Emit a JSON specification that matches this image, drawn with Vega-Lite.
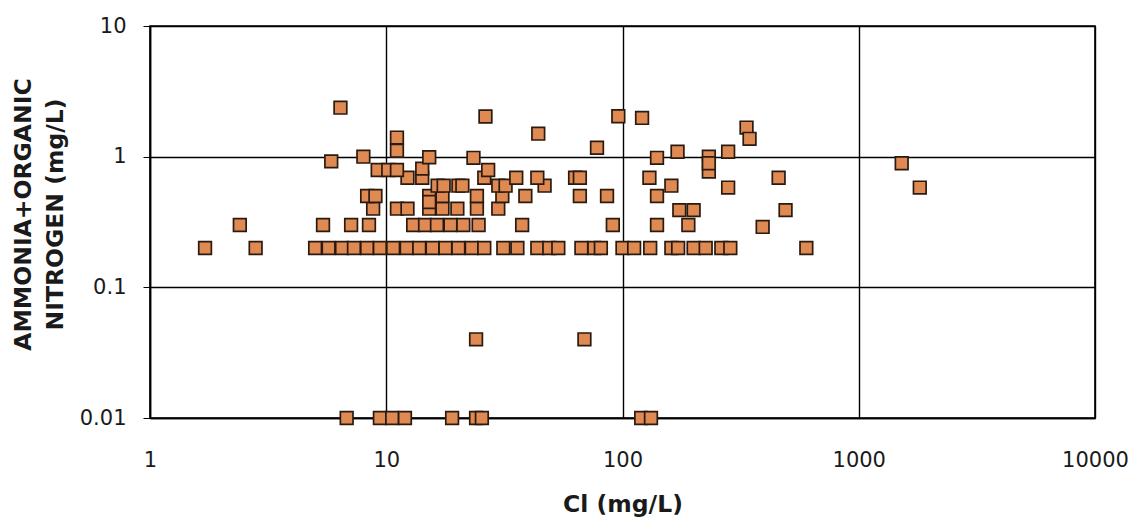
{
  "$schema": "https://vega.github.io/schema/vega-lite/v6.json",
  "autosize": {"type": "none"},
  "padding": {"left": 150, "top": 26, "right": 40, "bottom": 101},
  "width": 945,
  "height": 392,
  "background": "white",
  "config": {
    "view": {"stroke": "black", "strokeWidth": 1.6},
    "axis": {
      "labelFont": "DejaVu Sans",
      "titleFont": "DejaVu Sans",
      "labelFontSize": 21,
      "titleFontSize": 23.5,
      "labelColor": "#1a1a1a",
      "titleColor": "#1a1a1a",
      "grid": true,
      "gridColor": "black",
      "gridWidth": 1.4,
      "gridOpacity": 1,
      "domainColor": "black",
      "domainWidth": 1.6,
      "tickColor": "black"
    }
  },
  "data": {
    "values": [
      {"cl": 6.8, "n": 0.01}, {"cl": 9.4, "n": 0.01}, {"cl": 10.6, "n": 0.01}, {"cl": 12.0, "n": 0.01},
      {"cl": 19.0, "n": 0.01}, {"cl": 24.0, "n": 0.01}, {"cl": 25.4, "n": 0.01}, {"cl": 120, "n": 0.01}, {"cl": 132, "n": 0.01},
      {"cl": 24.0, "n": 0.04}, {"cl": 69, "n": 0.04},
      {"cl": 1.71, "n": 0.2}, {"cl": 2.8, "n": 0.2}, {"cl": 5.0, "n": 0.2}, {"cl": 5.7, "n": 0.2}, {"cl": 6.5, "n": 0.2},
      {"cl": 7.3, "n": 0.2}, {"cl": 8.3, "n": 0.2}, {"cl": 9.4, "n": 0.2}, {"cl": 10.7, "n": 0.2}, {"cl": 12.2, "n": 0.2},
      {"cl": 13.8, "n": 0.2}, {"cl": 15.7, "n": 0.2}, {"cl": 17.8, "n": 0.2}, {"cl": 20.2, "n": 0.2}, {"cl": 23, "n": 0.2},
      {"cl": 26, "n": 0.2}, {"cl": 31.3, "n": 0.2}, {"cl": 35.9, "n": 0.2}, {"cl": 43.6, "n": 0.2}, {"cl": 49, "n": 0.2},
      {"cl": 53.5, "n": 0.2}, {"cl": 67, "n": 0.2}, {"cl": 76, "n": 0.2}, {"cl": 81, "n": 0.2}, {"cl": 100, "n": 0.2},
      {"cl": 112, "n": 0.2}, {"cl": 131, "n": 0.2}, {"cl": 161, "n": 0.2}, {"cl": 172, "n": 0.2}, {"cl": 200, "n": 0.2},
      {"cl": 225, "n": 0.2}, {"cl": 262, "n": 0.2}, {"cl": 286, "n": 0.2}, {"cl": 600, "n": 0.2},
      {"cl": 2.4, "n": 0.3}, {"cl": 5.4, "n": 0.3}, {"cl": 7.1, "n": 0.3}, {"cl": 8.45, "n": 0.3}, {"cl": 13, "n": 0.3},
      {"cl": 14.6, "n": 0.3}, {"cl": 16.4, "n": 0.3}, {"cl": 18.7, "n": 0.3}, {"cl": 21.2, "n": 0.3}, {"cl": 24.6, "n": 0.3},
      {"cl": 37.6, "n": 0.3}, {"cl": 91, "n": 0.3}, {"cl": 140, "n": 0.3}, {"cl": 190, "n": 0.3}, {"cl": 392, "n": 0.29},
      {"cl": 8.8, "n": 0.4}, {"cl": 11.1, "n": 0.4}, {"cl": 12.3, "n": 0.4}, {"cl": 15.2, "n": 0.4}, {"cl": 17.3, "n": 0.4},
      {"cl": 20, "n": 0.4}, {"cl": 24.2, "n": 0.4}, {"cl": 29.8, "n": 0.4}, {"cl": 174, "n": 0.39}, {"cl": 200, "n": 0.39},
      {"cl": 490, "n": 0.39},
      {"cl": 8.3, "n": 0.5}, {"cl": 9.0, "n": 0.5}, {"cl": 15.2, "n": 0.5}, {"cl": 17.3, "n": 0.5}, {"cl": 15.2, "n": 0.45},
      {"cl": 24.2, "n": 0.5}, {"cl": 31, "n": 0.5}, {"cl": 38.8, "n": 0.5}, {"cl": 66, "n": 0.5}, {"cl": 86, "n": 0.5},
      {"cl": 140, "n": 0.5},
      {"cl": 16.5, "n": 0.6}, {"cl": 17.5, "n": 0.6}, {"cl": 20.2, "n": 0.6}, {"cl": 21, "n": 0.6}, {"cl": 29.8, "n": 0.6},
      {"cl": 32, "n": 0.6}, {"cl": 46.8, "n": 0.6}, {"cl": 161, "n": 0.6}, {"cl": 280, "n": 0.58}, {"cl": 1813, "n": 0.58},
      {"cl": 12.3, "n": 0.69}, {"cl": 14.2, "n": 0.69}, {"cl": 26, "n": 0.69}, {"cl": 35.5, "n": 0.69}, {"cl": 43.6, "n": 0.69},
      {"cl": 63, "n": 0.69}, {"cl": 66, "n": 0.69}, {"cl": 130, "n": 0.69}, {"cl": 458, "n": 0.69},
      {"cl": 9.2, "n": 0.79}, {"cl": 10.2, "n": 0.79}, {"cl": 11.1, "n": 0.79}, {"cl": 14.2, "n": 0.81}, {"cl": 27, "n": 0.79},
      {"cl": 232, "n": 0.77},
      {"cl": 5.85, "n": 0.92}, {"cl": 8.0, "n": 1.0}, {"cl": 15.2, "n": 0.99}, {"cl": 23.4, "n": 0.98}, {"cl": 140, "n": 0.98},
      {"cl": 232, "n": 1.0}, {"cl": 232, "n": 0.89}, {"cl": 1520, "n": 0.89},
      {"cl": 6.4, "n": 2.37}, {"cl": 11.1, "n": 1.4}, {"cl": 11.1, "n": 1.11}, {"cl": 26.3, "n": 2.03}, {"cl": 44, "n": 1.5},
      {"cl": 78, "n": 1.17}, {"cl": 96, "n": 2.04}, {"cl": 121, "n": 1.98}, {"cl": 171, "n": 1.09}, {"cl": 280, "n": 1.09},
      {"cl": 335, "n": 1.67}, {"cl": 345, "n": 1.37}
    ]
  },
  "mark": {
    "type": "square",
    "size": 160,
    "filled": true,
    "fill": "#df8a52",
    "fillOpacity": 1,
    "stroke": "#2a1a10",
    "strokeWidth": 1.7
  },
  "encoding": {
    "x": {
      "field": "cl",
      "type": "quantitative",
      "scale": {"type": "log", "domain": [1, 10000], "nice": false},
      "axis": {
        "values": [1, 10, 100, 1000, 10000],
        "format": "~g",
        "title": "Cl (mg/L)",
        "titleFontWeight": "bold",
        "ticks": false,
        "labelPadding": 31,
        "titlePadding": 22,
        "labelFlush": false
      }
    },
    "y": {
      "field": "n",
      "type": "quantitative",
      "scale": {"type": "log", "domain": [0.01, 10], "nice": false},
      "axis": {
        "values": [0.01, 0.1, 1, 10],
        "format": "~g",
        "title": ["AMMONIA+ORGANIC", "NITROGEN (mg/L)"],
        "titleFontWeight": "bold",
        "titleLineHeight": 32,
        "titleY": 188,
        "tickSize": 7,
        "labelPadding": 17,
        "titlePadding": 12,
        "labelFlush": false
      }
    }
  }
}
